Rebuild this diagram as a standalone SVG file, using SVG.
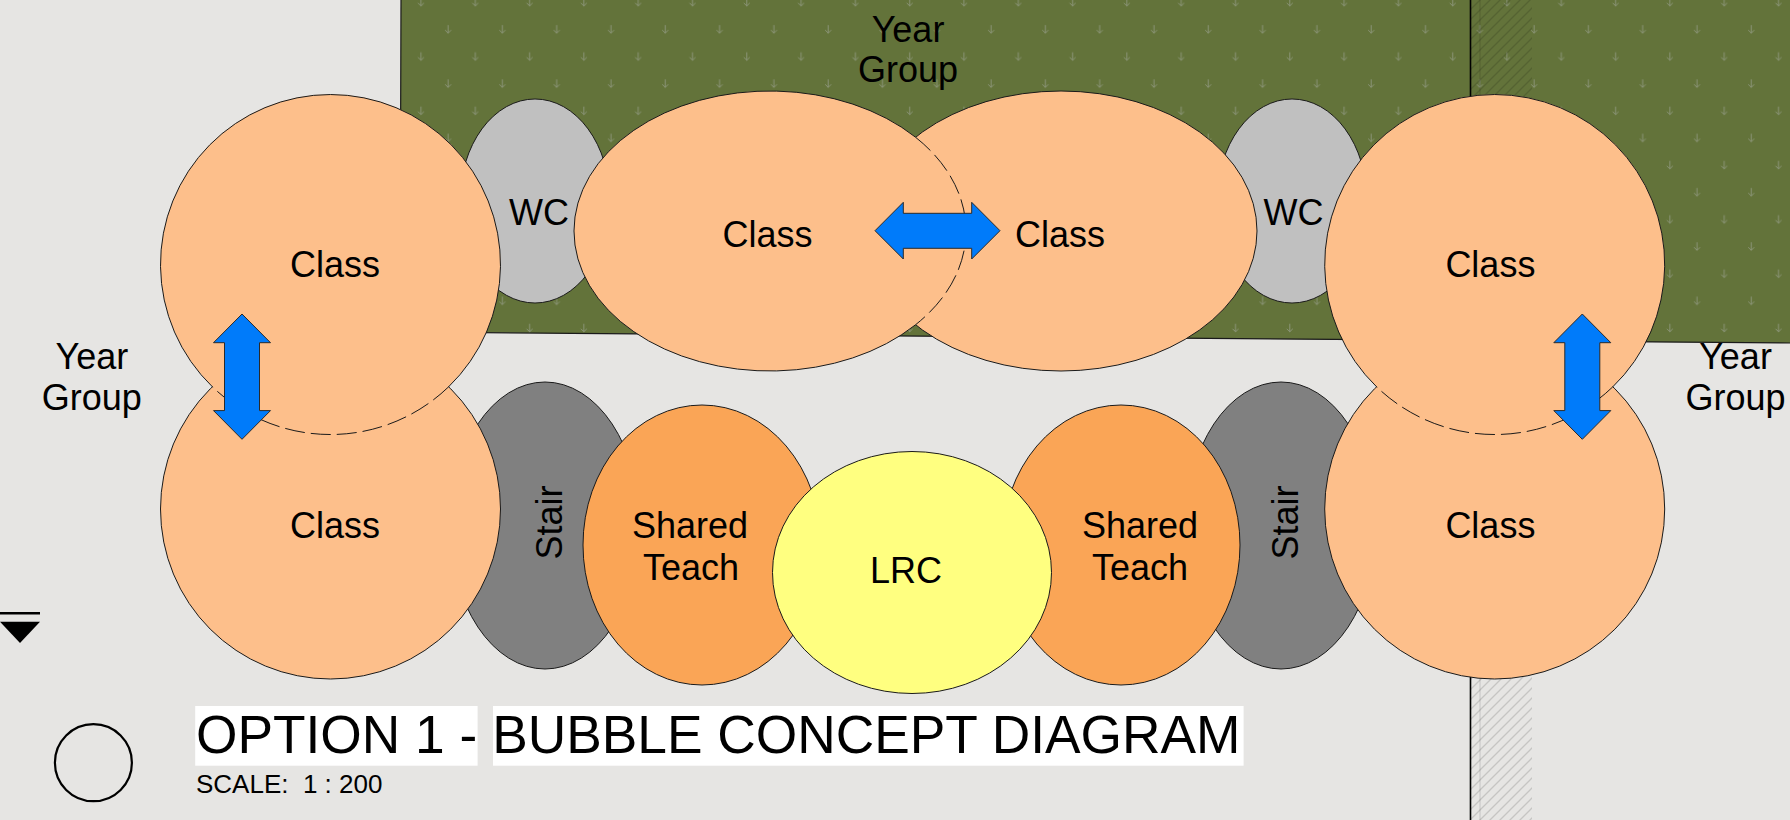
<svg xmlns="http://www.w3.org/2000/svg" width="1790" height="820" viewBox="0 0 1790 820">
<style>
.lbl{font-family:"Liberation Sans",Arial,sans-serif;font-size:36px;text-anchor:middle;fill:#000}
.bub{stroke:#1a1a1a;stroke-width:1}
.cls{fill:#fdbf8b}
.sh{fill:#faa556}
.arr{fill:#007bfa;stroke:#2a2a2a;stroke-width:1}
.dash{fill:none;stroke:#1a1a1a;stroke-width:1;stroke-dasharray:20 6}
.solid{fill:none;stroke:#1a1a1a;stroke-width:1}
</style>
<defs>
<pattern id="grass" patternUnits="userSpaceOnUse" x="407.4" y="-11.6" width="54.3" height="54.3">
<g fill="none" stroke="#8e977c" stroke-width="0.9">
<path d="M13.6,9.6V17.6M10.6,14.6L13.6,17.6L16.6,14.6"/>
<path d="M40.7,36.7V44.7M37.7,41.7L40.7,44.7L43.7,41.7"/>
</g>
</pattern>
<pattern id="hatch" patternUnits="userSpaceOnUse" width="10" height="10">
<path d="M-1,11L11,-1M-1,1L1,-1M9,11L11,9" stroke="#000" stroke-opacity="0.14" stroke-width="1.3"/>
</pattern>
</defs>
<rect x="0" y="0" width="1790" height="820" fill="#e6e5e3"/>
<g id="site">
<polygon points="401,-2 1792,-2 1792,343 400,332" fill="#63733a" stroke="#1a1a1a" stroke-width="1.2"/>
<polygon points="401,-2 1792,-2 1792,343 400,332" fill="url(#grass)"/>
<rect x="1470" y="0" width="62" height="820" fill="url(#hatch)"/>
<line x1="1480" y1="0" x2="1480" y2="820" stroke="#000" stroke-opacity="0.12" stroke-width="1.2"/>
<line x1="1470.5" y1="0" x2="1470.5" y2="820" stroke="#000" stroke-width="1.6"/>
</g>
<g id="wc-left"><ellipse class="bub" cx="535" cy="201" rx="75" ry="102" fill="#c0c0c0"/><text class="lbl" x="539" y="225">WC</text></g>
<g id="wc-right"><ellipse class="bub" cx="1292" cy="201" rx="75" ry="102" fill="#c0c0c0"/><text class="lbl" x="1293.5" y="225">WC</text></g>
<g id="stair-left"><ellipse class="bub" cx="545" cy="525.5" rx="95" ry="143.5" fill="#808080"/><text class="lbl" transform="translate(562,522.5) rotate(-90)">Stair</text></g>
<g id="stair-right"><ellipse class="bub" cx="1281" cy="525.5" rx="95" ry="143.5" fill="#808080"/><text class="lbl" transform="translate(1298,522.5) rotate(-90)">Stair</text></g>
<g id="shared-left"><ellipse class="bub sh" cx="702" cy="545" rx="119" ry="140"/><text class="lbl" x="690" y="538.3">Shared</text><text class="lbl" x="691" y="580">Teach</text></g>
<g id="shared-right"><ellipse class="bub sh" cx="1121" cy="545" rx="119" ry="140"/><text class="lbl" x="1140" y="538.3">Shared</text><text class="lbl" x="1140" y="580">Teach</text></g>
<g id="lrc"><ellipse class="bub" cx="912" cy="572.5" rx="139.5" ry="121" fill="#ffff80"/><text class="lbl" x="906" y="582.7">LRC</text></g>
<g id="class-bottom-left"><circle class="bub cls" cx="330.5" cy="509" r="170"/><text class="lbl" x="335" y="538.3">Class</text></g>
<g id="class-bottom-right"><circle class="bub cls" cx="1494.7" cy="509" r="170"/><text class="lbl" x="1490.4" y="538.3">Class</text></g>
<g id="class-top-left">
<circle class="cls" cx="330.5" cy="264.3" r="170"/>
<path class="solid" d="M212.6,387 A170,170 0 1 1 448.4,387"/>
<path class="dash" d="M448.4,387 A170,170 0 0 1 212.6,387"/>
<text class="lbl" x="335" y="276.7">Class</text>
</g>
<g id="class-top-right">
<circle class="cls" cx="1494.7" cy="264.3" r="170"/>
<path class="solid" d="M1376.8,387 A170,170 0 1 1 1612.6,387"/>
<path class="dash" d="M1612.6,387 A170,170 0 0 1 1376.8,387"/>
<text class="lbl" x="1490.4" y="276.7">Class</text>
</g>
<g id="class-mid-right"><ellipse class="bub cls" cx="1061" cy="231" rx="196" ry="140"/><text class="lbl" x="1060" y="246.7">Class</text></g>
<g id="class-mid-left">
<ellipse class="cls" cx="770" cy="231" rx="196" ry="140"/>
<path class="solid" d="M915.5,324.8 A196,140 0 1 1 915.5,137.2"/>
<path class="dash" d="M915.5,137.2 A196,140 0 0 1 915.5,324.8"/>
<text class="lbl" x="767.5" y="246.7">Class</text>
</g>
<g id="connectors">
<polygon class="arr" points="875,230.7 903.3,202.3 903.3,213.3 971.7,213.3 971.7,202.3 1000,230.7 971.7,259 971.7,248.3 903.3,248.3 903.3,259"/>
<polygon class="arr" points="242,314 270.5,342.7 259.5,342.7 259.5,410.6 270.5,410.6 242,439.3 213.5,410.6 224.5,410.6 224.5,342.7 213.5,342.7"/>
<polygon class="arr" points="1582.3,314 1610.8,342.7 1599.8,342.7 1599.8,410.6 1610.8,410.6 1582.3,439.3 1553.8,410.6 1564.8,410.6 1564.8,342.7 1553.8,342.7"/>
</g>
<g id="labels">
<text class="lbl" x="908" y="41.7">Year</text>
<text class="lbl" x="908" y="82.2">Group</text>
<text class="lbl" x="91.8" y="369.3">Year</text>
<text class="lbl" x="91.8" y="409.5">Group</text>
<text class="lbl" x="1735.5" y="369.3">Year</text>
<text class="lbl" x="1735.5" y="409.5">Group</text>
</g>
<g id="title">
<rect x="195.2" y="706" width="282.4" height="59.7" fill="#fff"/>
<rect x="493" y="706" width="750.6" height="59.7" fill="#fff"/>
<text x="196" y="753.3" font-family="Liberation Sans, Arial, sans-serif" font-size="53.3" fill="#000">OPTION 1 - BUBBLE CONCEPT DIAGRAM</text>
<text x="196" y="793.3" font-family="Liberation Sans, Arial, sans-serif" font-size="26" fill="#000" xml:space="preserve">SCALE:  1 : 200</text>
<circle cx="93.4" cy="762.7" r="38.5" fill="none" stroke="#000" stroke-width="2.2"/>
</g>
<g id="level-marker">
<line x1="0" y1="613.3" x2="40" y2="613.3" stroke="#000" stroke-width="2.6"/>
<polygon points="0,621.7 40,621.7 20,643" fill="#000"/>
</g>
</svg>
